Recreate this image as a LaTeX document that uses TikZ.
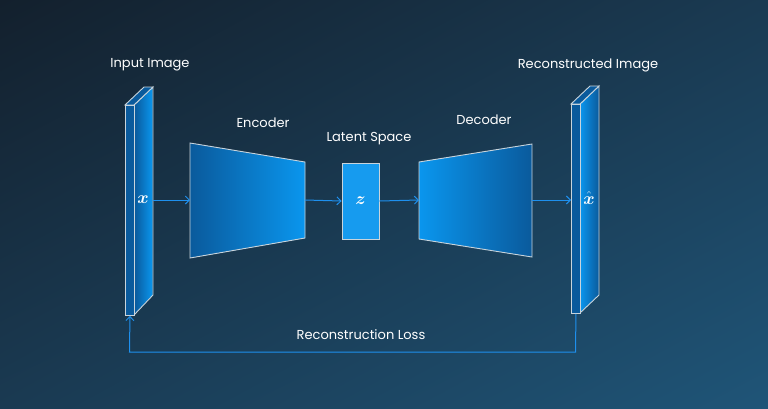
\documentclass[tikz,border=0pt]{standalone}
\usepackage{amsmath}
\usepackage{fontspec}
\setmainfont{Poppins}
\usetikzlibrary{positioning,arrows.meta,shadings}
\definecolor{bgdark}{HTML}{13202D}
\definecolor{bgmid}{HTML}{1A3A52}
\definecolor{bglight}{HTML}{1F5578}
\definecolor{blockdark}{HTML}{0A5A9C}
\definecolor{blocklight}{HTML}{0A96EE}
\definecolor{edgegray}{HTML}{C8D4DC}
\definecolor{flow}{HTML}{1E90EE}
\tikzset{
	lbl/.style={text=white, font=\fontsize{13}{15}\selectfont, inner sep=0},
	face/.style={draw=edgegray, line width=0.9pt},
	flowarrow/.style={draw=flow, line width=1pt, -{Straight Barb[length=4pt,width=8pt]}},
	sym/.style={text=white, font=\fontsize{18}{20}\selectfont, inner sep=0}
}
\begin{document}
\begin{tikzpicture}[x=1pt, y=-1pt]
		\shade[upper left=bgdark, lower right=bglight, upper right=bgmid, lower left=bgmid] (0,0) rectangle (768,408);
		\useasboundingbox (0,0) rectangle (768,408);
		% input slab
		\coordinate (inTL) at (125,105);
		\shade[left color=blockdark, right color=blocklight] (134.5,105) -- (152.5,88) -- (152.5,295) -- (134.5,314.5) -- cycle;
		\draw[face] (134,105) -- (153,87) -- (153,295) -- (134,315);
		\filldraw[face, fill=blockdark] (125,105) -- (144,87) -- (153,87) -- (134,105) -- cycle;
		\node[face, fill=blockdark, minimum width=9pt, minimum height=210pt, inner sep=0, anchor=north west] (input) at (inTL) {};
		\node[sym] (x) at (143,200) {$\boldsymbol{x}$};
		% output slab
		\shade[left color=blocklight, right color=blockdark] (580,104) -- (599,86) -- (599,295) -- (580,313) -- cycle;
		\draw[face] (580,104) -- (599,86) -- (599,295) -- (580,313);
		\filldraw[face, fill=blockdark] (571,104) -- (590,86) -- (599,86) -- (580,104) -- cycle;
		\node[face, fill=blockdark, minimum width=9pt, minimum height=209pt, inner sep=0, anchor=north west] (output) at (571,104) {};
		\node[sym] (xhat) at (589,198) {$\hat{\boldsymbol{x}}$};
		% encoder / latent / decoder
		\shade[left color=blockdark, right color=blocklight] (190,143) -- (305,162) -- (305,238) -- (190,258) -- cycle;
		\draw[face] (190,143) -- (305,162) -- (305,238) -- (190,258) -- cycle;
		\coordinate (encin) at (190,200);
		\coordinate (encout) at (305,200);
		\node[face, fill=blocklight!95!white, minimum width=37pt, minimum height=76pt, inner sep=0] (z) at (360.5,201) {};
		\node[sym] at (z) {$\boldsymbol{z}$};
		\shade[left color=blocklight, right color=blockdark] (419,162) -- (532,144) -- (532,257) -- (419,239) -- cycle;
		\draw[face] (419,162) -- (532,144) -- (532,257) -- (419,239) -- cycle;
		\coordinate (decin) at (419,200);
		\coordinate (decout) at (532,200);
		% labels
		\node[lbl] (inlbl) at (150,65) {Input Image};
		\node[lbl] (enclbl) at (263,123) {Encoder};
		\node[lbl] (zlbl) at (369,139) {Latent Space};
		\node[lbl] (declbl) at (484,120) {Decoder};
		\node[lbl] (outlbl) at (588,65) {Reconstructed Image};
		\node[lbl] (losslbl) at (361,335) {Reconstruction Loss};
		% connectors
		\draw[flowarrow] (153,200) -- (encin);
		\draw[flowarrow] (encout) -- (z.west);
		\draw[flowarrow] (z.east) -- (decin);
		\draw[flowarrow] (decout) -- (output.west |- decout);
		\coordinate (lossR) at (575.5,352);
		\coordinate (lossL) at (129.5,352);
		\draw[flowarrow] (output.south) -- (lossR) -- (lossL) -- (input.south);
\end{tikzpicture}
\end{document}
